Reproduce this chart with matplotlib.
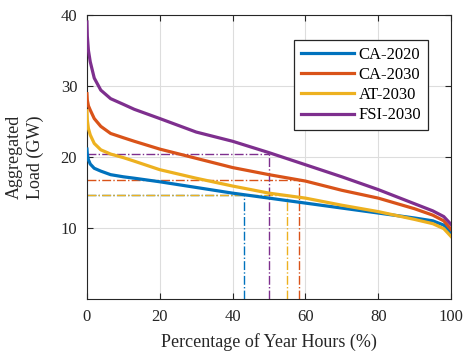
# --------- Load duration curves ----------

import matplotlib
matplotlib.use("Agg")
import matplotlib.pyplot as plt

# ---------- Data ----------

pct = [0, 0.1, 0.4, 0.9, 2, 3.8, 6.5, 10, 13, 20, 30, 40, 50, 60, 70, 80, 90, 95, 98, 100]

ca2020 = [21.1, 20.4, 19.6, 19.0, 18.4, 18.0, 17.5, 17.2, 17.0, 16.5, 15.7, 14.9, 14.2, 13.5, 12.8, 12.1, 11.4, 11.0, 10.4, 9.3]
ca2030 = [28.9, 28.0, 27.2, 26.6, 25.4, 24.3, 23.3, 22.7, 22.2, 21.1, 19.8, 18.5, 17.5, 16.6, 15.3, 14.2, 12.7, 11.8, 11.0, 9.8]
at2030 = [26.5, 25.2, 24.0, 23.1, 21.9, 21.0, 20.4, 19.9, 19.4, 18.2, 17.0, 15.9, 14.9, 14.2, 13.2, 12.3, 11.2, 10.6, 9.9, 8.8]
fsi2030 = [39.0, 37.0, 35.0, 33.4, 31.1, 29.4, 28.2, 27.4, 26.7, 25.4, 23.5, 22.2, 20.6, 18.9, 17.2, 15.4, 13.4, 12.4, 11.6, 10.5]

labels = ["CA-2020", "CA-2030", "AT-2030", "FSI-2030"]
colors = ["#0072BD", "#D95319", "#EDB120", "#7E2F8E"]

# reference points marked with dash-dot lines (percent, load)
ref_pct = [43, 58.3, 55, 50]
ref_load = [14.7, 16.8, 14.6, 20.4]

# ---------- Plot ----------

plt.rcParams["font.family"] = "Liberation Serif"

fig = plt.figure(figsize=(4.65, 3.53), dpi=100)
ax = fig.add_axes([0.187, 0.153, 0.783, 0.805])

for y, lab, c in zip([ca2020, ca2030, at2030, fsi2030], labels, colors):
    ax.plot(pct, y, color=c, lw=2.3, label=lab, zorder=3)

for xp, yl, c in zip(ref_pct, ref_load, colors):
    ax.plot([0, xp], [yl, yl], color=c, lw=1.0, ls="-.", zorder=2)
    ax.plot([xp, xp], [0, yl], color=c, lw=1.0, ls="-.", zorder=2)

ax.set_xlim(0, 100)
ax.set_ylim(0, 40)
ax.set_xticks([0, 20, 40, 60, 80, 100])
ax.set_yticks([10, 20, 30, 40])
ax.tick_params(direction="in", top=True, right=True, labelsize=12,
               colors="#262626", length=4, pad=7)
ax.grid(True, color="#dddddd", lw=0.8)
ax.set_axisbelow(True)
for s in ax.spines.values():
    s.set_color("#262626")

ax.set_xlabel("Percentage of Year Hours (%)", fontsize=13, color="#262626",
              labelpad=6)
ax.set_ylabel("Aggregated\nLoad (GW)", fontsize=13, color="#262626",
              linespacing=1.25, labelpad=12)

leg = ax.legend(loc="upper right", fontsize=12, fancybox=False,
                edgecolor="#262626", framealpha=1, handlelength=3.2,
                borderpad=0.4, labelspacing=0.25, handletextpad=0.3,
                bbox_to_anchor=(0.96, 0.94))
leg.get_frame().set_linewidth(0.9)

fig.savefig("out.png", dpi=100)
